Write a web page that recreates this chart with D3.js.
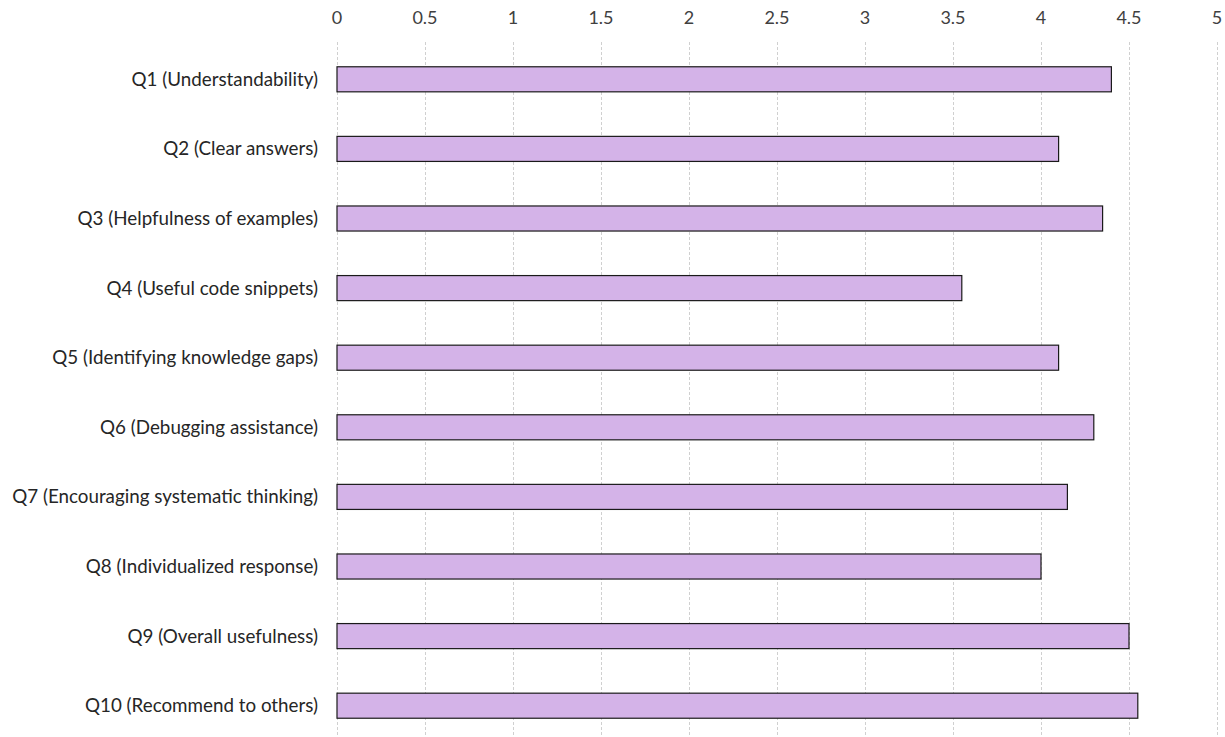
<!DOCTYPE html>
<html>
<head>
<meta charset="utf-8">
<script src="https://cdn.jsdelivr.net/npm/d3@7"></script>
<style>
	body { margin: 0; background: #fff; }
	text { font-family: Lato, "Open Sans", sans-serif; }
</style>
</head>
<body>
<div id="chart"></div>
<script>
const questions = [
	"Q1 (Understandability)",
	"Q2 (Clear answers)",
	"Q3 (Helpfulness of examples)",
	"Q4 (Useful code snippets)",
	"Q5 (Identifying knowledge gaps)",
	"Q6 (Debugging assistance)",
	"Q7 (Encouraging systematic thinking)",
	"Q8 (Individualized response)",
	"Q9 (Overall usefulness)",
	"Q10 (Recommend to others)"
];
const scores = [4.4, 4.1, 4.35, 3.55, 4.1, 4.3, 4.15, 4.0, 4.5, 4.55];
const ticks = [0, 0.5, 1, 1.5, 2, 2.5, 3, 3.5, 4, 4.5, 5];

const width = 1225, height = 737;

const svg = d3.select("#chart")
	.append("svg")
	.attr("width", width)
	.attr("height", height);

const x = d3.scaleLinear().domain([0, 5]).range([337, 1217]);
const y = d3.scaleBand()
	.domain(questions)
	.range([44.5, 740.5])
	.paddingInner(0.64)
	.paddingOuter(0.32);

// grid lines
svg.append("g")
	.selectAll("line")
	.data(ticks)
	.enter()
	.append("line")
	.attr("x1", (d) => Math.round(x(d)) + 0.5)
	.attr("x2", (d) => Math.round(x(d)) + 0.5)
	.attr("y1", 42)
	.attr("y2", height)
	.attr("stroke", "#d0d0d0")
	.attr("stroke-dasharray", "3,2");

// top axis labels
svg.append("g")
	.selectAll("text")
	.data(ticks)
	.enter()
	.append("text")
	.attr("x", (d) => x(d))
	.attr("y", 24)
	.attr("text-anchor", "middle")
	.attr("font-size", 18)
	.attr("fill", "#404040")
	.text((d) => d);

// bars
svg.append("g")
	.selectAll("rect")
	.data(scores)
	.enter()
	.append("rect")
	.attr("x", x(0))
	.attr("y", (d, i) => y(questions[i]))
	.attr("width", (d) => x(d) - x(0))
	.attr("height", y.bandwidth())
	.attr("fill", "#d4b3e8")
	.attr("stroke", "#1a1a1a")
	.attr("stroke-width", 1.2);

// category labels
svg.append("g")
	.selectAll("text")
	.data(questions)
	.enter()
	.append("text")
	.attr("x", 318)
	.attr("y", (d) => y(d) + y.bandwidth() / 2)
	.attr("dy", "0.35em")
	.attr("text-anchor", "end")
	.attr("font-size", 18.8)
	.attr("fill", "#262626")
	.text((d) => d);
</script>
</body>
</html>
